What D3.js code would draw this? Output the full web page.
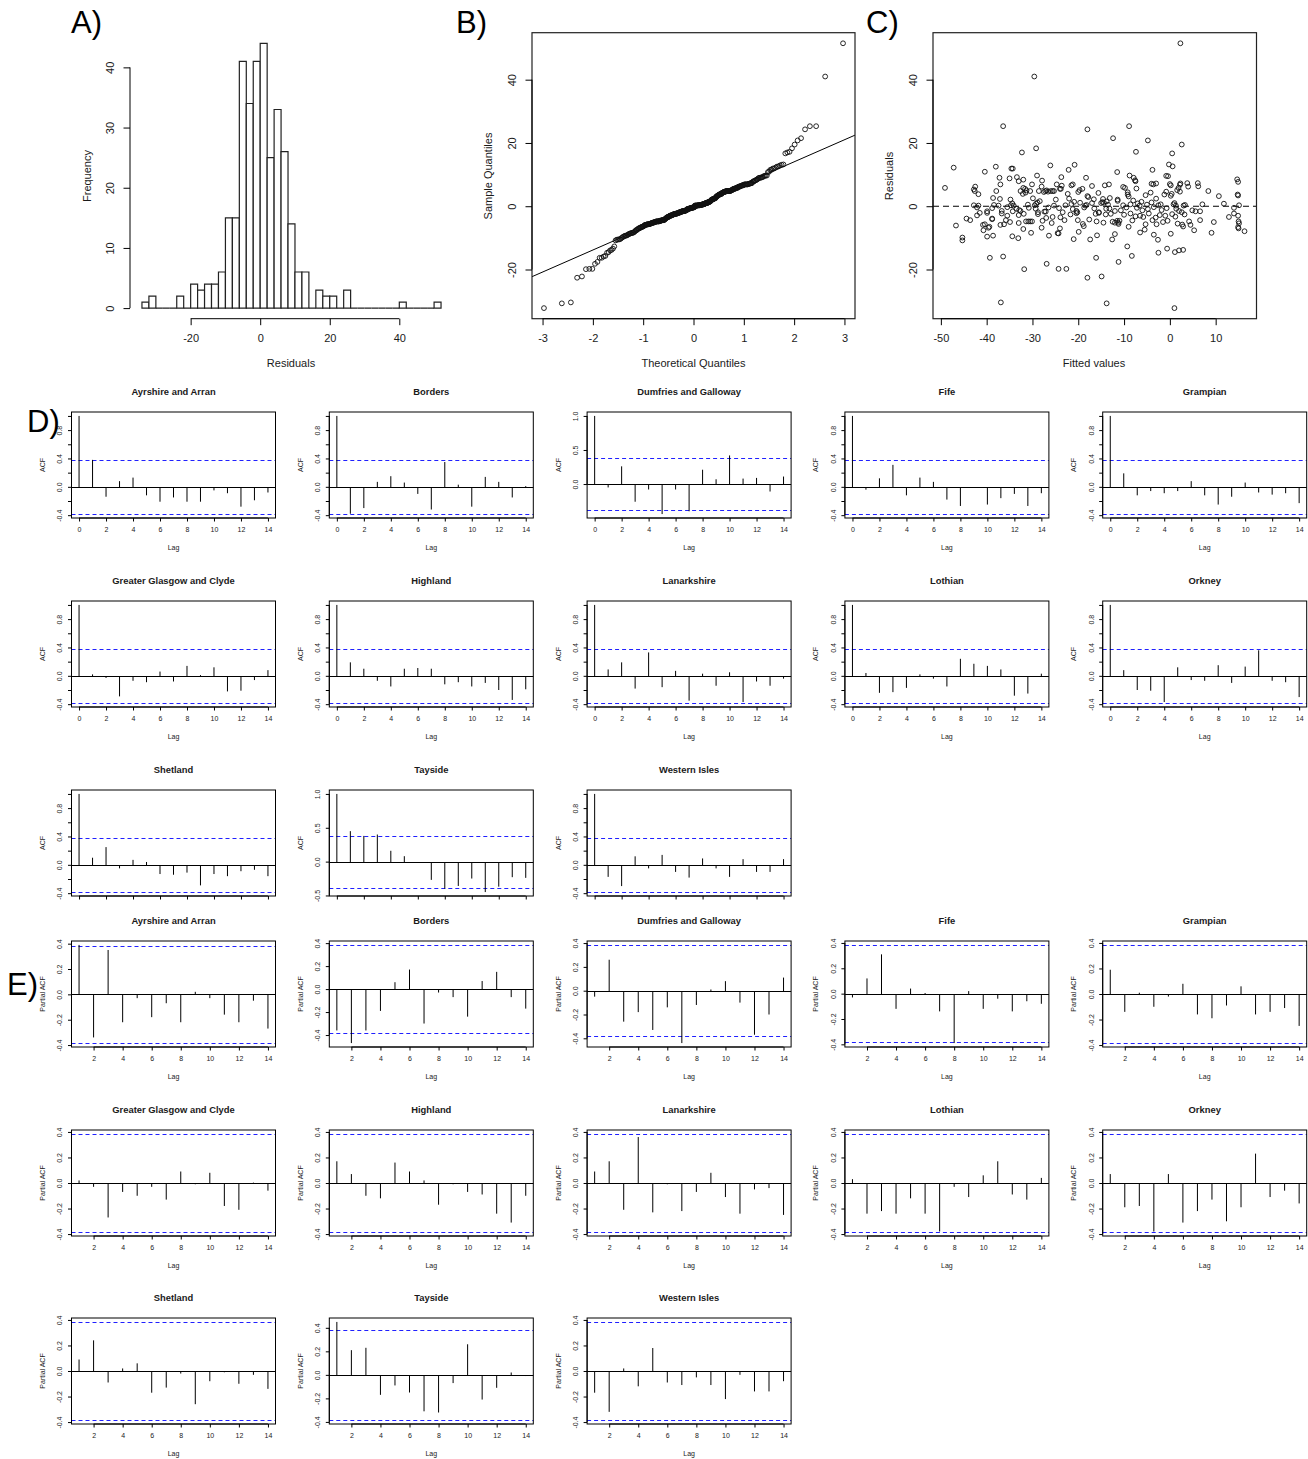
<!DOCTYPE html>
<html>
<head>
<meta charset="utf-8">
<script src="https://cdn.jsdelivr.net/npm/d3@7"></script>
<style>
  body { margin: 0; background: #fff; }
  svg text { font-family: "Liberation Sans", Arial, Helvetica, sans-serif; }
</style>
</head>
<body>
<div id="chart"></div>
<script>
// ---- data -----------------------------------------------------------------
// [fitted value, residual] for each observation (panel C); A and B use the same residuals
const residPoints = [
  [2.3, 51.5], [-29.6, 41.0], [-36.4, 25.3], [-8.9, 25.3], [-18.0, 24.3],
  [-12.4, 21.5], [-4.8, 20.8], [2.6, 19.5], [-29.2, 18.3],
  [-7.4, 17.2], [-32.3, 17.0], [0.5, 16.7],
  [-0.2, 13.2], [-20.8, 13.1], [-26.1, 12.9], [0.6, 12.6], [-38.0, 12.5], [-47.2, 12.2],
  [-34.6, 11.9], [-34.3, 11.9], [-22.1, 11.5], [-3.8, 11.5], [-40.4, 10.9], [-11.5, 10.8],
  [-29.0, 9.7], [-8.8, 9.7], [-0.8, 9.6], [-0.4, 9.5], [-33.4, 9.2], [-23.7, 9.2], [-18.3, 9.0],
  [-7.9, 9.0], [-37.2, 9.0], [-35.0, 8.8], [14.7, 8.5], [-32.0, 8.4], [-7.6, 8.2], [-27.9, 8.1],
  [-33.0, 7.9], [14.9, 7.7], [-7.5, 7.9], [2.3, 7.2], [-4.0, 7.1], [-3.6, 6.9], [-3.0, 7.2],
  [-37.0, 6.9], [-30.1, 6.9], [-24.7, 6.9], [-13.3, 6.9], [-21.5, 6.6], [-21.2, 6.9], [-14.2, 6.6],
  [-23.6, 6.5], [0.0, 7.0], [0.2, 6.6], [3.8, 7.3], [6.1, 7.3], [6.2, 6.3], [4.0, 6.2], [2.2, 6.8],
  [-42.5, 6.2], [-17.0, 6.4], [-10.2, 6.1], [-28.0, 6.2],
  [-49.1, 5.8], [-42.8, 5.3], [-42.6, 4.8], [-37.9, 4.8], [-32.0, 5.8], [-32.6, 4.8], [-31.6, 5.5],
  [-31.3, 5.0], [-31.5, 4.3], [-30.5, 4.8], [-28.6, 4.8], [-27.5, 4.5], [-27.2, 4.8], [-26.9, 5.0],
  [-26.6, 4.6], [-26.0, 4.8], [-25.6, 4.8], [-25.3, 4.8], [-24.0, 5.5], [-23.8, 5.5], [-20.0, 4.5],
  [-19.7, 5.1], [-19.1, 5.5], [-15.6, 4.2], [-9.8, 5.8], [-7.3, 5.6], [1.6, 5.1], [1.9, 5.8],
  [2.2, 4.6], [8.4, 4.8], [-9.2, 4.4], [-4.2, 4.3], [-0.8, 4.6],
  [-41.8, 3.8], [-37.1, 2.3], [-34.8, 2.1], [-32.1, 3.9], [-22.3, 3.9], [-22.0, 2.4], [-18.0, 3.2],
  [-17.8, 2.9], [-16.6, 2.2], [-13.1, 2.6], [-9.2, 3.7], [-9.0, 3.1], [-5.3, 3.5], [-1.2, 3.7],
  [0.2, 3.3], [0.4, 3.9], [10.7, 3.2], [14.8, 3.7], [14.9, 3.4], [-24.9, 2.1], [-29.9, 2.5],
  [-38.6, 2.6], [-11.4, 2.1], [-3.0, 2.4], [-14.6, 2.3],
  [-42.8, 0.3], [-41.8, 0.2], [-38.4, 0.4], [-37.4, 0.2], [-34.7, 0.3], [-34.4, 0.9], [-34.1, 0.2],
  [-29.5, 0.3], [-29.2, 0.8], [-28.9, 1.2], [-28.4, 1.6], [-25.3, 0.2], [-22.8, 0.3], [-20.9, 1.4],
  [-19.6, 1.1], [-18.5, 0.2], [-18.2, 0.4], [-17.0, 1.0], [-15.0, 1.0], [-14.7, 1.3], [-14.4, 1.1],
  [-13.8, 1.5], [-13.5, 0.5], [-11.4, 1.7], [-10.2, 0.3], [-8.6, 0.6], [-7.0, 0.9], [-6.6, 0.2],
  [-6.2, 1.4], [-5.0, 0.5], [-2.5, 0.3], [-2.0, 0.6], [0.8, 0.6], [1.0, 1.0], [1.3, 0.2], [3.0, 0.2],
  [3.3, 0.4], [7.1, 0.6], [11.8, 0.8], [15.1, 0.3], [-8.0, 1.8], [-4.0, 1.2], [-21.5, 0.7], [-31.0, 0.5],
  [-42.1, -0.4], [-39.9, -1.6], [-38.8, -0.6], [-36.7, -1.5], [-35.5, -0.3], [-34.3, -1.6], [-33.5, -0.8],
  [-32.9, -1.2], [-32.6, -1.5], [-30.8, -0.5], [-29.3, -0.8], [-28.8, -1.9], [-27.4, -1.7], [-27.1, -1.7],
  [-26.5, -0.4], [-24.2, -0.6], [-23.4, -1.9], [-21.2, -0.9], [-20.4, -1.5], [-20.2, -1.9], [-18.7, -0.4],
  [-16.5, -0.7], [-15.5, -1.9], [-13.9, -0.8], [-13.2, -0.7], [-12.0, -1.5], [-10.7, -1.3], [-9.5, -0.4],
  [-7.2, -0.5], [-6.0, -1.3], [-4.8, -0.9], [-3.5, -0.3], [-1.8, -1.2], [-0.7, -0.6], [1.4, -0.8],
  [2.0, -1.5], [2.6, -1.9], [4.9, -1.3], [5.6, -1.6], [6.6, -1.6], [14.0, -0.5],
  [-42.1, -2.9], [-41.5, -2.1], [-39.9, -2.1], [-38.8, -3.9], [-36.7, -2.3], [-31.9, -2.4], [-28.8, -2.5],
  [-25.6, -3.4], [-23.9, -3.5], [-20.4, -2.2], [-15.5, -2.1], [-14.0, -2.6], [-12.9, -2.4], [-8.6, -2.3],
  [-7.5, -3.2], [-5.8, -3.4], [-4.6, -2.3], [-3.1, -3.6], [-2.2, -2.8], [-1.0, -3.0], [0.5, -2.5],
  [1.2, -3.3], [3.2, -2.6], [12.9, -3.4], [14.0, -2.3], [14.9, -3.0], [-35.5, -3.0], [-33.0, -2.8],
  [-27.0, -3.7], [-10.0, -2.7], [-6.5, -3.0], [-21.7, -2.6], [-44.4, -3.9], [-16.2, -2.4],
  [-43.6, -4.4], [-40.8, -5.9], [-40.4, -5.7], [-38.8, -4.1], [-37.0, -5.9], [-36.2, -5.7], [-35.8, -4.4],
  [-34.9, -5.0], [-33.0, -5.3], [-31.4, -4.8], [-30.9, -4.8], [-30.5, -4.8], [-30.1, -4.8], [-25.8, -5.3],
  [-23.0, -4.4], [-20.1, -4.4], [-17.6, -4.2], [-16.0, -4.8], [-12.5, -4.9], [-12.0, -5.2], [-11.5, -4.6],
  [-11.3, -5.2], [-11.2, -5.6], [-11.0, -4.6], [-5.3, -5.7], [-2.9, -5.7], [-1.5, -5.0], [1.7, -5.5],
  [4.2, -4.8], [4.5, -5.9], [6.6, -4.4], [9.6, -5.0], [15.0, -4.8], [15.1, -5.4], [-8.2, -4.5],
  [-19.0, -5.6], [-27.8, -4.6], [-3.8, -4.4], [-0.5, -4.6], [-14.5, -5.2], [2.7, -5.8],
  [-46.7, -6.1], [-40.7, -7.6], [-39.6, -6.8], [-39.4, -6.5], [-32.0, -7.2], [-18.8, -6.3], [-5.5, -7.4],
  [2.9, -6.4], [5.3, -7.6], [14.9, -6.6], [15.0, -7.0], [16.3, -7.9], [-24.0, -7.0], [-9.0, -6.5], [-28.0, -6.8],
  [-39.9, -9.6], [-38.6, -9.3], [-34.4, -9.5], [-30.3, -8.4], [-26.4, -9.3], [-24.5, -8.5], [-24.3, -8.6],
  [-19.9, -8.1], [-15.9, -9.2], [-3.5, -9.0], [0.2, -8.7], [9.1, -8.4], [-45.3, -9.9], [-12.0, -8.8], [-6.5, -8.3],
  [-45.3, -10.8], [-33.1, -10.1], [-21.0, -10.4], [-17.4, -10.5], [-12.6, -10.5], [-2.6, -10.6],
  [-9.3, -12.7], [-0.6, -13.4], [2.9, -13.8], [2.0, -13.95],
  [-36.4, -15.9], [-8.3, -15.7], [-2.5, -14.7], [1.1, -14.5],
  [-11.2, -17.6], [-39.3, -16.3], [-16.1, -16.3],
  [-26.9, -18.2], [-31.8, -19.9], [-24.3, -19.8], [-22.6, -19.8],
  [-18.0, -22.6], [-14.9, -22.2],
  [-13.8, -30.7], [-36.9, -30.4],
  [1.0, -32.2]
];

// histogram breaks
const histStart = -34, histEnd = 52, histStep = 2;

const regions = [
  "Ayrshire and Arran", "Borders", "Dumfries and Galloway", "Fife", "Grampian",
  "Greater Glasgow and Clyde", "Highland", "Lanarkshire", "Lothian", "Orkney",
  "Shetland", "Tayside", "Western Isles"
];
const nYears = 26;
const acfLags = d3.range(0, 15);
const pacfLags = d3.range(1, 15);

// autocorrelation of residuals by region, lags 0..14
const acfValues = [
  [1, 0.38, -0.14, 0.08, 0.13, -0.12, -0.21, -0.15, -0.21, -0.21, -0.05, -0.09, -0.28, -0.19, -0.08],
  [1, -0.38, -0.30, 0.07, 0.15, 0.06, -0.10, -0.32, 0.35, 0.03, -0.28, 0.14, 0.07, -0.15, 0.01],
  [1, -0.05, 0.26, -0.26, -0.08, -0.441, -0.08, -0.40, 0.21, 0.07, 0.42, 0.08, 0.09, -0.11, 0.11],
  [1, -0.04, 0.12, 0.31, -0.12, 0.13, 0.07, -0.18, -0.27, -0.01, -0.25, -0.16, -0.10, -0.27, -0.09],
  [1, 0.19, -0.12, -0.06, -0.09, -0.06, 0.08, -0.12, -0.25, -0.14, 0.06, -0.08, -0.11, -0.09, -0.23],
  [1, 0.02, -0.03, -0.29, -0.07, -0.09, 0.06, -0.08, 0.14, 0.01, 0.12, -0.22, -0.21, -0.06, 0.08],
  [1, 0.19, 0.10, -0.07, -0.15, 0.10, 0.11, 0.10, -0.12, -0.09, -0.15, -0.10, -0.20, -0.34, -0.19],
  [1, 0.09, 0.19, -0.18, 0.33, -0.16, 0.07, -0.35, 0.03, -0.14, 0.05, -0.37, -0.08, -0.14, -0.04],
  [1, 0.04, -0.24, -0.23, -0.17, 0.02, -0.04, -0.15, 0.24, 0.17, 0.14, 0.09, -0.28, -0.25, 0.03],
  [1, 0.08, -0.20, -0.21, -0.37, 0.12, -0.06, -0.07, 0.15, -0.10, 0.13, 0.36, -0.07, -0.09, -0.30],
  [1, 0.10, 0.25, -0.05, 0.07, 0.04, -0.13, -0.14, -0.11, -0.29, -0.13, -0.16, -0.09, -0.07, -0.16],
  [1, 0.45, 0.38, 0.40, 0.16, 0.08, -0.02, -0.27, -0.40, -0.36, -0.25, -0.45, -0.37, -0.23, -0.24],
  [1, -0.17, -0.30, 0.12, -0.05, 0.14, -0.10, -0.18, 0.09, -0.05, -0.17, 0.08, -0.10, -0.10, 0.08]
];

// partial autocorrelation by region, lags 1..14
const pacfValues = [
  [0.39, -0.34, 0.35, -0.22, -0.03, -0.18, -0.07, -0.22, 0.02, -0.03, -0.16, -0.22, -0.05, -0.27],
  [-0.36, -0.47, -0.36, -0.19, 0.06, 0.17, -0.30, -0.03, -0.07, -0.24, 0.07, 0.15, -0.07, -0.17],
  [-0.05, 0.26, -0.26, -0.18, -0.33, -0.14, -0.44, -0.12, 0.01, 0.08, -0.10, -0.37, -0.20, 0.11],
  [-0.03, 0.12, 0.31, -0.12, 0.04, 0.005, -0.14, -0.39, 0.02, -0.12, -0.04, -0.14, -0.06, -0.08],
  [0.19, -0.14, 0.01, -0.10, -0.02, 0.08, -0.16, -0.19, -0.09, 0.06, -0.16, -0.14, -0.11, -0.25],
  [0.02, -0.03, -0.27, -0.07, -0.10, -0.03, -0.13, 0.09, -0.01, 0.08, -0.18, -0.21, 0.003, -0.06],
  [0.17, 0.07, -0.10, -0.12, 0.16, 0.09, 0.02, -0.17, -0.01, -0.07, -0.09, -0.24, -0.31, -0.10],
  [0.09, 0.17, -0.21, 0.36, -0.23, -0.01, -0.22, -0.07, 0.08, -0.11, -0.24, -0.05, -0.04, -0.25],
  [0.03, -0.24, -0.22, -0.24, -0.12, -0.24, -0.38, -0.03, -0.11, 0.06, 0.17, -0.09, -0.13, 0.04],
  [0.07, -0.19, -0.18, -0.38, 0.07, -0.31, -0.22, -0.13, -0.30, -0.19, 0.23, -0.11, -0.06, -0.16],
  [0.09, 0.24, -0.09, 0.02, 0.06, -0.17, -0.13, -0.02, -0.26, -0.08, -0.01, -0.10, -0.03, -0.14],
  [0.45, 0.21, 0.23, -0.17, -0.09, -0.15, -0.31, -0.32, -0.07, 0.26, -0.21, -0.11, 0.02, -0.01],
  [-0.17, -0.32, 0.02, -0.12, 0.18, -0.09, -0.11, -0.05, -0.11, -0.22, -0.03, -0.16, -0.16, -0.08]
];

// ---- helpers ----------------------------------------------------------------
const ink = "#1a1a1a";

// R style 4% axis extension
function rExtend(r) { const d = (r[1] - r[0]) * 0.04; return [r[0] - d, r[1] + d]; }

// tick positions the way R's axis() picks them
function rPretty(dom, n = 5) {
  const lo = dom[0], hi = dom[1];
  const cell = (hi - lo) / n;
  const U = Math.pow(10, Math.floor(Math.log10(cell)));
  let unit = U;
  if (2 * U - cell < 0.8 * (cell - unit)) {
    unit = 2 * U;
    if (5 * U - cell < 1.7 * (cell - unit)) {
      unit = 5 * U;
      if (10 * U - cell < 0.8 * (cell - unit)) unit = 10 * U;
    }
  }
  const out = [];
  for (let k = Math.ceil(lo / unit - 1e-9); k * unit <= hi + 1e-9; k++) out.push(+(k * unit).toFixed(10));
  return out;
}

// inverse normal cdf (Acklam)
function qnorm(p) {
  const a = [-39.69683028665376, 220.9460984245205, -275.9285104469687, 138.3577518672690, -30.66479806614716, 2.506628277459239];
  const b = [-54.47609879822406, 161.5858368580409, -155.6989798598866, 66.80131188771972, -13.28068155288572];
  const c = [-0.007784894002430293, -0.3223964580411365, -2.400758277161838, -2.549732539343734, 4.374664141464968, 2.938163982698783];
  const d = [0.007784695709041462, 0.3224671290700398, 2.445134137142996, 3.754408661907416];
  if (p < 0.02425) {
    const q = Math.sqrt(-2 * Math.log(p));
    return (((((c[0] * q + c[1]) * q + c[2]) * q + c[3]) * q + c[4]) * q + c[5]) / ((((d[0] * q + d[1]) * q + d[2]) * q + d[3]) * q + 1);
  }
  if (p > 1 - 0.02425) return -qnorm(1 - p);
  const q = p - 0.5, r = q * q;
  return (((((a[0] * r + a[1]) * r + a[2]) * r + a[3]) * r + a[4]) * r + a[5]) * q /
         (((((b[0] * r + b[1]) * r + b[2]) * r + b[3]) * r + b[4]) * r + 1);
}

function rAxis(g, scale, orient, o) {
  const ticks = rPretty(scale.domain());
  const axis = (orient === "bottom" ? d3.axisBottom(scale) : d3.axisLeft(scale))
    .tickValues(ticks).tickSize(o.tickLen).tickSizeOuter(0).tickFormat(o.fmt);
  const a = g.append("g")
    .attr("transform", orient === "bottom" ? `translate(0,${o.at})` : `translate(${o.at},0)`)
    .call(axis);
  a.select(".domain").attr("stroke", "#000").attr("d", orient === "bottom"
    ? `M${scale(ticks[0])},0H${scale(ticks[ticks.length - 1])}`
    : `M0,${scale(ticks[0])}V${scale(ticks[ticks.length - 1])}`);
  a.selectAll(".tick line").attr("stroke", "#000");
  const txt = a.selectAll(".tick text").style("font-size", o.fontSize + "px").attr("fill", ink);
  if (o.noLabels) { txt.remove(); return a; }
  if (orient === "bottom") txt.attr("y", o.dist).attr("dy", "0.35em");
  else txt.attr("x", 0).attr("y", -o.dist).attr("dy", "0.35em")
    .attr("text-anchor", "middle").attr("transform", "rotate(-90)");
  // labels that would touch the previous one are left out, as R does
  let last = -Infinity;
  txt.each(function (d) {
    const p = scale(d);
    if (Math.abs(p - last) < (o.minGap || 0)) d3.select(this).remove(); else last = p;
  });
  return a;
}

function label(g, txt, x, y, size, rotate, weight) {
  const t = g.append("text").attr("x", x).attr("y", y).attr("dy", "0.35em")
    .attr("text-anchor", "middle").style("font-size", size + "px").attr("fill", ink).text(txt);
  if (weight) t.style("font-weight", weight);
  if (rotate) t.attr("transform", `rotate(-90,${x},${y})`);
  return t;
}

// ---- figure -----------------------------------------------------------------
const svg = d3.select("#chart").append("svg")
  .attr("width", 1308).attr("height", 1459)
  .style("background", "#fff");

const residuals = residPoints.map(d => d[1]);
const plotTop = 32.7, plotBottom = 318.7;

// A) histogram
const gA = svg.append("g");
const xA = d3.scaleLinear().domain(rExtend([histStart, histEnd])).range([130, 453]);
const bins = d3.bin().domain([histStart, histEnd])
  .thresholds(d3.range(histStart + histStep, histEnd, histStep))(residuals);
const yA = d3.scaleLinear().domain(rExtend([0, d3.max(bins, b => b.length)])).range([plotBottom, plotTop]);
gA.selectAll("path.bar").data(bins).join("path").attr("class", "bar")
  .attr("d", b => `M${xA(b.x0)},${yA(0)}V${yA(b.length)}H${xA(b.x1)}V${yA(0)}Z`)
  .attr("fill", "#fff").attr("stroke", "#222").attr("stroke-width", 1.2);
rAxis(gA, xA, "bottom", { at: plotBottom, tickLen: 6.5, dist: 19.5, fontSize: 11, fmt: d => String(d) });
rAxis(gA, yA, "left", { at: 130, tickLen: 6.5, dist: 20, fontSize: 11, fmt: d => String(d) });
label(gA, "Residuals", 291, 363, 11);
label(gA, "Frequency", 87, 176, 11, true);

// B) normal Q-Q plot
const gB = svg.append("g");
const sorted = residuals.slice().sort(d3.ascending);
const nRes = sorted.length;
const qq = sorted.map((r, i) => [qnorm((i + 1 - 0.5) / nRes), r]);
const xB = d3.scaleLinear().domain(rExtend(d3.extent(qq, d => d[0]))).range([532, 855]);
const yB = d3.scaleLinear().domain(rExtend(d3.extent(sorted))).range([plotBottom, plotTop]);
const q1 = d3.quantile(sorted, 0.25), q3 = d3.quantile(sorted, 0.75);
const slope = (q3 - q1) / (qnorm(0.75) - qnorm(0.25));
const icpt = q1 - slope * qnorm(0.25);
svg.append("clipPath").attr("id", "clipB").append("rect")
  .attr("x", 532).attr("y", plotTop).attr("width", 323).attr("height", plotBottom - plotTop);
gB.append("line").attr("clip-path", "url(#clipB)")
  .attr("x1", xB(xB.domain()[0])).attr("y1", yB(icpt + slope * xB.domain()[0]))
  .attr("x2", xB(xB.domain()[1])).attr("y2", yB(icpt + slope * xB.domain()[1]))
  .attr("stroke", "#000").attr("stroke-width", 1);
gB.selectAll("circle").data(qq).join("circle")
  .attr("cx", d => xB(d[0])).attr("cy", d => yB(d[1])).attr("r", 2.4)
  .attr("fill", "none").attr("stroke", "#111").attr("stroke-width", 0.9);
gB.append("rect").attr("x", 532).attr("y", plotTop).attr("width", 323).attr("height", plotBottom - plotTop)
  .attr("fill", "none").attr("stroke", "#222").attr("stroke-width", 1.2);
rAxis(gB, xB, "bottom", { at: plotBottom, tickLen: 6.5, dist: 19.5, fontSize: 11, fmt: d => String(d) });
rAxis(gB, yB, "left", { at: 532, tickLen: 6.5, dist: 20, fontSize: 11, fmt: d => String(d) });
label(gB, "Theoretical Quantiles", 693.5, 363, 11);
label(gB, "Sample Quantiles", 488, 176, 11, true);

// C) residuals vs fitted
const gC = svg.append("g");
const xC = d3.scaleLinear().domain(rExtend(d3.extent(residPoints, d => d[0]))).range([933, 1256.5]);
const yC = d3.scaleLinear().domain(rExtend(d3.extent(residuals))).range([plotBottom, plotTop]);
gC.append("line").attr("x1", 933).attr("x2", 1256.5).attr("y1", yC(0)).attr("y2", yC(0))
  .attr("stroke", "#000").attr("stroke-width", 1.2).attr("stroke-dasharray", "6,4");
gC.selectAll("circle").data(residPoints).join("circle")
  .attr("cx", d => xC(d[0])).attr("cy", d => yC(d[1])).attr("r", 2.4)
  .attr("fill", "none").attr("stroke", "#111").attr("stroke-width", 0.9);
gC.append("rect").attr("x", 933).attr("y", plotTop).attr("width", 323.5).attr("height", plotBottom - plotTop)
  .attr("fill", "none").attr("stroke", "#222").attr("stroke-width", 1.2);
rAxis(gC, xC, "bottom", { at: plotBottom, tickLen: 6.5, dist: 19.5, fontSize: 11, fmt: d => String(d) });
rAxis(gC, yC, "left", { at: 933, tickLen: 6.5, dist: 20, fontSize: 11, fmt: d => String(d) });
label(gC, "Fitted values", 1094, 363, 11);
label(gC, "Residuals", 889, 176, 11, true);

// D) and E) correlograms
const clim = qnorm(0.975) / Math.sqrt(nYears);
const boxW = 204, boxH = 106;
const colX = c => 71.5 + c * 257.8;
const crisp = v => Math.round(v) + 0.5;

function corrPanel(parent, bx, by, title, lags, vals, ylab, cropped) {
  const g = parent.append("g");
  const x = d3.scaleLinear().domain(rExtend(d3.extent(lags))).range([bx, bx + boxW]);
  const y = d3.scaleLinear()
    .domain(rExtend([Math.min(d3.min(vals), -clim), Math.max(d3.max(vals), clim)]))
    .range([by + boxH, by]);
  g.append("line").attr("x1", bx).attr("x2", bx + boxW).attr("y1", crisp(y(0))).attr("y2", crisp(y(0)))
    .attr("stroke", "#000").attr("stroke-width", 1);
  g.selectAll("line.lim").data([clim, -clim]).join("line").attr("class", "lim")
    .attr("x1", bx).attr("x2", bx + boxW).attr("y1", d => crisp(y(d))).attr("y2", d => crisp(y(d)))
    .attr("stroke", "#2020ff").attr("stroke-width", 1).attr("stroke-dasharray", "4,3");
  g.selectAll("line.spike").data(lags.map((l, i) => [l, vals[i]])).join("line").attr("class", "spike")
    .attr("x1", d => x(d[0])).attr("x2", d => x(d[0])).attr("y1", crisp(y(0))).attr("y2", d => y(d[1]))
    .attr("stroke", "#000").attr("stroke-width", 1);
  g.append("rect").attr("x", bx).attr("y", by).attr("width", boxW).attr("height", boxH)
    .attr("fill", "none").attr("stroke", "#000").attr("stroke-width", 1);
  // the bottom row of D is cut off just under its tick marks in the original figure
  rAxis(g, x, "bottom", { at: by + boxH, tickLen: 3.5, dist: 12, fontSize: 7, fmt: d => String(d), noLabels: cropped });
  rAxis(g, y, "left", { at: bx, tickLen: 3.5, dist: 11.5, fontSize: 7, fmt: d => d.toFixed(1), minGap: 17 });
  label(g, title, bx + boxW / 2, by - 20.5, 9.4, false, "bold");
  if (!cropped) label(g, "Lag", bx + boxW / 2, by + boxH + 30, 7);
  label(g, ylab, bx - 29, by + boxH / 2, 7, true);
}

const dRows = [412, 601, 790];
const eRows = [941, 1130, 1318];
regions.forEach((name, i) => {
  const col = i % 5, row = Math.floor(i / 5);
  corrPanel(svg, colX(col), dRows[row], name, acfLags, acfValues[i], "ACF", row === 2);
  corrPanel(svg, colX(col), eRows[row], name, pacfLags, pacfValues[i], "Partial ACF", false);
});

// panel letters
const letters = [["A)", 71, 33], ["B)", 456, 33], ["C)", 866, 33], ["D)", 27, 432], ["E)", 7, 995]];
svg.selectAll("text.letter").data(letters).join("text").attr("class", "letter")
  .attr("x", d => d[1]).attr("y", d => d[2]).text(d => d[0])
  .style("font-size", "31px").attr("fill", "#000");
</script>
</body>
</html>
